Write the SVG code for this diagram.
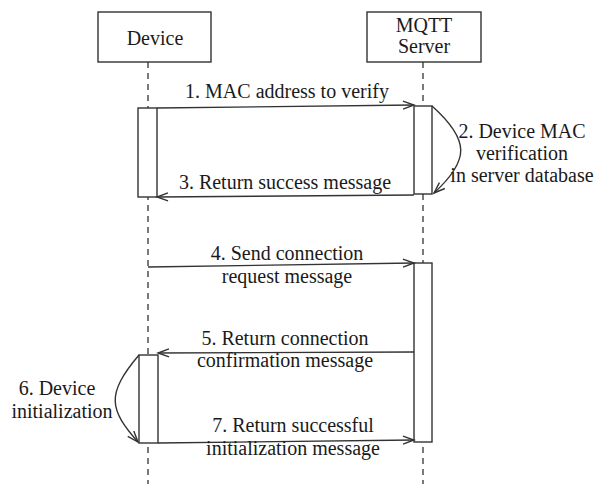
<svg xmlns="http://www.w3.org/2000/svg" width="608" height="484" viewBox="0 0 608 484">
<defs>
<marker id="ah" markerUnits="userSpaceOnUse" markerWidth="14" markerHeight="12" refX="12" refY="5" orient="auto" viewBox="0 0 14 10">
<path d="M1,1 L12,5 L1,9" fill="none" stroke="#333" stroke-width="1.4"/>
</marker>
</defs>
<g id="lifelines" stroke="#333" stroke-width="1.3" stroke-dasharray="6,5" fill="none">
<line x1="148" y1="62" x2="148" y2="484"/>
<line x1="423" y1="62" x2="423" y2="484"/>
</g>
<g fill="#fff" stroke="#333" stroke-width="1.4">
<g id="device"><rect x="98" y="12" width="113" height="50"/></g>
<g id="server"><rect x="367" y="12" width="114" height="50"/></g>
<g id="act-device-1"><rect x="138" y="108" width="19" height="89"/></g>
<g id="act-server-1"><rect x="414" y="106" width="18" height="88"/></g>
<g id="act-server-2"><rect x="414" y="263" width="18" height="179"/></g>
<g id="act-device-2"><rect x="139" y="355" width="19" height="88"/></g>
</g>
<g id="connectors" stroke="#333" stroke-width="1.4" fill="none" marker-end="url(#ah)">
<path d="M157,108 L414,105"/>
<path d="M432,106 C470,140 470,160 434,193"/>
<path d="M414,195 L157,197"/>
<path d="M148,267 L414,263"/>
<path d="M414,352 L158,353"/>
<path d="M139,355 C105,395 110,410 138,442"/>
<path d="M158,443 L414,440"/>
</g>
<g id="labels" font-family="Liberation Serif" font-size="20" fill="#1a1a1a" text-anchor="middle">
<text x="155" y="45">Device</text>
<text x="424" y="32">MQTT</text>
<text x="424" y="53">Server</text>
<text x="287" y="98">1. MAC address to verify</text>
<text x="522" y="138">2. Device MAC</text>
<text x="522" y="160">verification</text>
<text x="522" y="182">in server database</text>
<text x="285" y="189">3. Return success message</text>
<text x="287" y="260">4. Send connection</text>
<text x="287" y="283">request message</text>
<text x="285" y="345">5. Return connection</text>
<text x="285" y="367">confirmation message</text>
<text x="57" y="395">6. Device</text>
<text x="62" y="418">initialization</text>
<text x="293" y="432">7. Return successful</text>
<text x="293" y="455">initialization message</text>
</g>
</svg>
